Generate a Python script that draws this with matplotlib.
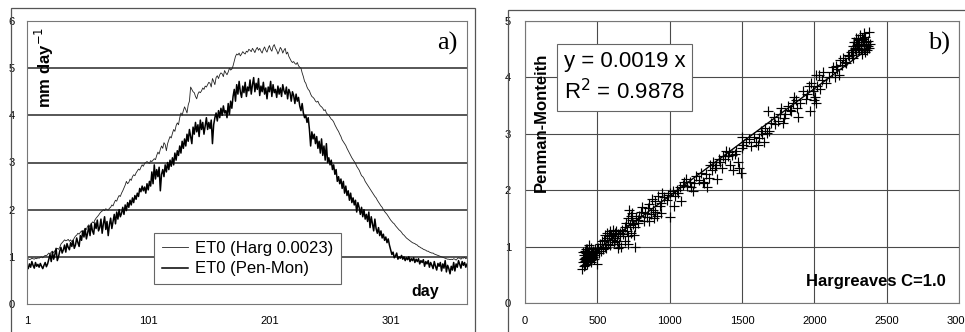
import numpy as np
import matplotlib
matplotlib.use("Agg")
from matplotlib import pyplot as plt
from matplotlib.patches import Rectangle

plt.rcParams["font.family"] = ["Liberation Sans", "DejaVu Sans"]

# ET0 Hargreaves (C=0.0023), mm/day, day 1..365
harg = [
    0.95, 0.96, 0.94, 0.95, 0.97, 0.96, 0.95, 0.97, 0.96, 0.98,
    0.97, 0.99, 1.00, 0.98, 1.01, 1.03, 1.02, 1.05, 1.08, 1.06,
    1.10, 1.12, 1.09, 1.13, 1.15, 1.18, 1.16, 1.20, 1.27, 1.30,
    1.33, 1.36, 1.34, 1.35, 1.37, 1.33, 1.36, 1.32, 1.35, 1.40,
    1.44, 1.46, 1.50, 1.48, 1.52, 1.55, 1.50, 1.56, 1.60, 1.58,
    1.65, 1.68, 1.63, 1.70, 1.74, 1.72, 1.78, 1.82, 1.85, 1.88,
    1.92, 1.95, 1.97, 2.00, 1.98, 2.02, 2.00, 1.99, 2.03, 2.05,
    2.10, 2.08, 2.15, 2.20, 2.18, 2.25, 2.30, 2.28, 2.35, 2.40,
    2.46, 2.52, 2.60, 2.55, 2.58, 2.65, 2.62, 2.70, 2.74, 2.72,
    2.78, 2.82, 2.86, 2.84, 2.90, 2.95, 2.92, 2.98, 3.00, 3.02,
    3.00, 2.98, 3.04, 3.02, 3.05, 3.08, 3.06, 3.15, 3.22, 3.18,
    3.28, 3.35, 3.30, 3.42, 3.38, 3.25, 3.40, 3.48, 3.55, 3.52,
    3.62, 3.70, 3.66, 3.78, 3.84, 3.80, 3.95, 4.05, 4.00, 4.10,
    4.18, 4.12, 4.05, 4.22, 4.30, 4.60, 4.55, 4.50, 4.48, 4.40,
    4.35, 4.45, 4.50, 4.48, 4.52, 4.58, 4.55, 4.62, 4.60, 4.65,
    4.70, 4.68, 4.60, 4.78, 4.72, 4.65, 4.80, 4.84, 4.78, 4.86,
    4.90, 4.88, 4.82, 4.95, 4.90, 4.86, 4.92, 5.00, 4.96, 4.98,
    5.05, 5.15, 5.25, 5.30, 5.28, 5.32, 5.26, 5.30, 5.35, 5.32,
    5.30, 5.36, 5.34, 5.40, 5.38, 5.35, 5.42, 5.38, 5.33, 5.40,
    5.44, 5.38, 5.42, 5.36, 5.32, 5.40, 5.45, 5.38, 5.34, 5.42,
    5.48, 5.40, 5.36, 5.46, 5.50, 5.42, 5.38, 5.30, 5.36, 5.44,
    5.40, 5.32, 5.38, 5.42, 5.30, 5.34, 5.25, 5.20, 5.15, 5.12,
    5.14, 5.10, 5.08, 5.12, 5.05, 5.02, 5.00, 4.90, 4.82, 4.72,
    4.68, 4.60, 4.55, 4.52, 4.45, 4.40, 4.38, 4.35, 4.30, 4.28,
    4.30, 4.24, 4.20, 4.18, 4.15, 4.10, 4.12, 4.05, 4.02, 4.00,
    3.96, 3.92, 3.90, 3.86, 3.80, 3.75, 3.70, 3.66, 3.60, 3.55,
    3.48, 3.44, 3.40, 3.36, 3.30, 3.25, 3.20, 3.15, 3.10, 3.06,
    3.02, 2.98, 2.92, 2.88, 2.84, 2.78, 2.72, 2.70, 2.66, 2.60,
    2.56, 2.52, 2.48, 2.44, 2.40, 2.36, 2.32, 2.28, 2.25, 2.20,
    2.16, 2.12, 2.08, 2.05, 2.00, 1.96, 1.93, 1.90, 1.86, 1.82,
    1.78, 1.75, 1.72, 1.70, 1.66, 1.63, 1.60, 1.57, 1.55, 1.52,
    1.48, 1.46, 1.43, 1.40, 1.38, 1.36, 1.34, 1.32, 1.30, 1.29,
    1.28, 1.26, 1.25, 1.22, 1.21, 1.19, 1.18, 1.16, 1.15, 1.14,
    1.12, 1.12, 1.10, 1.09, 1.08, 1.08, 1.06, 1.05, 1.04, 1.03,
    1.02, 1.01, 1.00, 0.99, 0.98, 0.97, 0.96, 0.95, 0.95, 0.94,
    0.95, 0.94, 0.96, 0.95, 0.93, 0.96, 0.98, 0.97, 0.95, 0.98,
    0.97, 0.99, 0.96, 0.98, 0.97,
]

# ET0 Penman-Monteith, mm/day, day 1..365
penmon = [
    0.80, 0.75, 0.85, 0.78, 0.90, 0.82, 0.76, 0.88, 0.80, 0.84,
    0.78, 0.86, 0.80, 0.75, 0.82, 0.88, 0.79, 0.85, 0.95, 1.05,
    0.90, 1.10, 0.95, 1.05, 1.18, 0.92, 1.00, 1.12, 1.20, 1.08,
    1.15, 1.25, 1.10, 1.28, 1.20, 1.15, 1.30, 1.22, 1.35, 1.18,
    1.25, 1.40, 1.30, 1.22, 1.45, 1.35, 1.55, 1.42, 1.60, 1.38,
    1.50, 1.65, 1.45, 1.70, 1.55, 1.48, 1.72, 1.60, 1.78, 1.55,
    1.62, 1.80, 1.50, 1.70, 1.85, 1.58, 1.75, 1.45, 1.68, 1.82,
    1.60, 1.75, 1.90, 1.70, 1.95, 1.80, 2.00, 1.85, 1.92, 2.05,
    1.90, 2.10, 1.98, 2.15, 2.05, 2.20, 2.10, 2.25, 2.15, 2.30,
    2.22, 2.35, 2.28, 2.45, 2.38, 2.50, 2.40, 2.48, 2.35, 2.55,
    2.42, 2.60, 2.50, 2.80, 2.55, 2.95, 2.65, 2.85, 2.70, 2.90,
    2.40, 2.75, 2.85, 2.70, 2.95, 2.80, 3.00, 2.85, 3.05, 2.92,
    3.10, 2.95, 3.20, 3.05, 3.25, 3.15, 3.35, 3.20, 3.45, 3.30,
    3.50, 3.35, 3.60, 3.45, 3.70, 3.55, 3.40, 3.75, 3.60, 3.85,
    3.65, 3.80, 3.55, 3.90, 3.70, 3.85, 3.60, 3.78, 3.95, 3.70,
    3.85, 3.72, 3.90, 3.40, 3.80, 3.95, 4.05, 3.88, 4.10, 3.95,
    4.15, 4.00, 4.20, 4.05, 4.10, 3.95, 4.25, 4.02, 4.30, 4.15,
    4.40, 4.55, 4.30, 4.65, 4.45, 4.72, 4.50, 4.38, 4.62, 4.48,
    4.70, 4.40, 4.60, 4.52, 4.75, 4.45, 4.65, 4.80, 4.50, 4.68,
    4.55, 4.78, 4.42, 4.62, 4.50, 4.70, 4.45, 4.58, 4.35, 4.60,
    4.50, 4.72, 4.40, 4.65, 4.48, 4.55, 4.38, 4.62, 4.45, 4.58,
    4.40, 4.65, 4.52, 4.45, 4.60, 4.35, 4.55, 4.48, 4.30, 4.50,
    4.42, 4.25, 4.45, 4.30, 4.38, 4.20, 4.10, 4.25, 4.05, 3.95,
    4.00, 3.85, 3.95, 3.70, 3.35, 3.65, 3.50, 3.60, 3.40, 3.55,
    3.30, 3.45, 3.20, 3.50, 3.15, 3.35, 3.05, 3.40, 3.00, 3.10,
    2.95, 3.05, 2.85, 2.95, 2.75, 2.85, 2.60, 2.70, 2.55, 2.65,
    2.45, 2.60, 2.35, 2.50, 2.30, 2.40, 2.20, 2.35, 2.15, 2.25,
    2.10, 2.20, 1.95, 2.15, 2.05, 1.90, 2.05, 1.85, 2.00, 1.80,
    1.90, 1.75, 1.95, 1.62, 1.85, 1.70, 1.55, 1.80, 1.60, 1.50,
    1.62, 1.45, 1.55, 1.40, 1.48, 1.35, 1.42, 1.30, 1.38, 1.25,
    1.15, 1.05, 1.10, 0.98, 1.02, 1.08, 0.95, 1.00, 0.97, 1.03,
    0.95, 1.00, 0.92, 0.98, 0.94, 1.00, 0.90, 0.96, 0.92, 0.98,
    0.88, 0.95, 0.90, 0.96, 0.85, 0.92, 0.88, 0.94, 0.80, 0.90,
    0.85, 0.92, 0.78, 0.88, 0.82, 0.75, 0.90, 0.80, 0.72, 0.86,
    0.80, 0.88, 0.70, 0.85, 0.76, 0.92, 0.68, 0.82, 0.75, 0.64,
    0.80, 0.72, 0.88, 0.70, 0.85, 0.78, 0.92, 0.84, 0.76, 0.90,
    0.82, 0.88, 0.78, 0.85, 0.80,
]

# panel b scatter: Hargreaves C=1.0 (x) vs Penman-Monteith (y)
sc_harg = [
    395, 400, 405, 410, 412, 415, 418, 420, 422, 425, 428, 430, 432, 435, 438,
    440, 442, 445, 448, 450, 455, 458, 460, 465, 470, 475, 480, 485, 490, 495,
    400, 410, 425, 440, 455, 470, 485, 500, 415, 430,
    505, 510, 520, 525, 530, 540, 545, 550, 555, 560, 565, 570, 575, 580, 585,
    590, 595, 600, 605, 610, 615, 620, 625, 630, 635, 640, 645, 650, 655, 660,
    665, 670, 680, 690, 700, 705, 710, 715, 720, 725, 730, 735, 740, 745, 750,
    760, 770, 780, 790, 800, 690, 710, 740, 760, 780,
    810, 820, 830, 840, 850, 860, 870, 880, 885, 890, 900, 910, 920, 930, 940,
    950, 960, 980, 990, 1000, 1000, 860, 900, 940,
    1020, 1030, 1040, 1050, 1060, 1070, 1080, 1090, 1100, 1110, 1120, 1140, 1150,
    1160, 1170, 1180, 1200, 1220, 1230, 1240, 1250, 1260, 1270, 1280, 1290, 1300,
    1310, 1320, 1330, 1340, 1350, 1360, 1370, 1380, 1390, 1400, 1410, 1420, 1430,
    1440, 1450, 1460, 1470, 1480, 1490, 1500, 1500, 1510,
    1530, 1550, 1560, 1580, 1600, 1610, 1620, 1630, 1640, 1650, 1660, 1670, 1680,
    1690, 1700,
    1720, 1730, 1750, 1760, 1770, 1780, 1790, 1800, 1820, 1830, 1840, 1850, 1860,
    1870, 1880, 1890, 1900,
    1920, 1940, 1950, 1960, 1970, 1980, 1990, 2000, 2005, 2010, 2010, 2020, 2030,
    2040, 2050, 2060, 2080, 2100,
    2120, 2130, 2140, 2150, 2160, 2170, 2180, 2190, 2200, 2210, 2220, 2230, 2240,
    2250,
    2260, 2265, 2270, 2275, 2280, 2285, 2290, 2295, 2300, 2305, 2310, 2315, 2320,
    2325, 2330, 2335, 2340, 2345, 2350, 2355, 2360, 2365, 2370, 2375, 2380, 2385,
    2270, 2290, 2310, 2330, 2350, 2370, 2300, 2320, 2340, 2360, 2280, 2345,
]
sc_pm = [
    0.60, 0.72, 0.85, 0.78, 0.92, 0.68, 0.80, 0.75, 0.88, 0.82, 0.70, 0.95, 0.78, 0.86, 0.74,
    1.02, 0.80, 0.90, 0.76, 0.84, 0.98, 0.72, 0.88, 0.80, 0.92, 0.85, 0.78, 0.95, 0.88, 0.70,
    0.90, 0.65, 0.96, 0.84, 0.76, 0.82, 0.90, 0.95, 0.75, 0.88,
    0.98, 0.88, 1.05, 0.92, 1.10, 0.95, 1.12, 1.00, 1.20, 0.98, 1.15, 1.25, 1.05, 1.18, 1.28,
    1.02, 1.20, 1.12, 1.22, 1.30, 1.08, 1.25, 1.15, 1.28, 1.10, 1.22, 0.98, 1.05, 1.25, 1.18,
    1.00, 1.30, 1.22, 1.35, 1.42, 1.28, 1.50, 1.18, 1.65, 1.38, 1.55, 1.25, 1.48, 1.40, 1.20,
    1.00, 1.50, 1.42, 1.55, 1.62, 1.10, 1.05, 1.60, 1.35, 1.48,
    1.70, 1.45, 1.60, 1.52, 1.68, 1.45, 1.58, 1.85, 1.65, 1.50, 1.62, 1.55, 1.90, 1.72, 1.78,
    1.95, 1.88, 1.82, 1.92, 1.52, 1.95, 1.75, 1.80, 1.60,
    1.98, 1.72, 1.90, 2.00, 1.95, 2.05, 1.80, 2.10, 2.15, 2.20, 2.08, 2.15, 2.05,
    1.98, 2.12, 2.25, 2.18, 2.30, 2.15, 2.12, 2.28, 2.05, 2.22, 2.45, 2.35, 2.50,
    2.40, 2.45, 2.20, 2.55, 2.50, 2.40, 2.60, 2.55, 2.70, 2.60, 2.68, 2.45, 2.62,
    2.35, 2.65, 2.70, 2.50, 2.40, 2.30, 2.95, 2.75, 2.80,
    2.85, 2.90, 2.78, 2.95, 2.85, 2.80, 2.92, 3.05, 3.00, 2.85, 3.10, 3.02, 3.40,
    3.05, 3.20,
    3.30, 3.18, 3.22, 3.35, 3.45, 3.20, 3.28, 3.35, 3.50, 3.42, 3.40, 3.55, 3.65,
    3.60, 3.45, 3.30, 3.55,
    3.75, 3.62, 3.70, 3.85, 3.40, 3.90, 3.75, 3.60, 3.65, 3.55, 4.05, 3.85, 4.05,
    3.80, 3.95, 4.10, 3.90, 4.00,
    4.10, 4.18, 4.00, 4.20, 4.15, 4.05, 4.30, 4.22, 4.35, 4.28, 4.25, 4.40, 4.38,
    4.45,
    4.40, 4.55, 4.48, 4.62, 4.50, 4.70, 4.45, 4.58, 4.52, 4.66, 4.48, 4.75, 4.55,
    4.60, 4.42, 4.68, 4.50, 4.62, 4.72, 4.55, 4.58, 4.48, 4.65, 4.52, 4.80, 4.60,
    4.35, 4.62, 4.58, 4.70, 4.45, 4.55, 4.68, 4.50, 4.58, 4.62, 4.52, 4.78,
]

fit_slope = 0.0019   # regression through origin in panel b
r2 = 0.9878

days = np.arange(1, len(harg) + 1)
sc_harg = np.array(sc_harg)

fig = plt.figure(figsize=(9.65, 3.32), dpi=100)
W, H = 965, 332


def px_axes(x0, x1, ytop, ybot):
    return fig.add_axes([x0 / W, 1 - ybot / H, (x1 - x0) / W, (ybot - ytop) / H])


def frame(x0, ytop, x1):
    # outer chart-area border (bottom/right run off the scan)
    fig.add_artist(Rectangle((x0 / W, -0.1), (x1 - x0) / W, 1.1 - ytop / H,
                             transform=fig.transFigure, fill=False,
                             edgecolor="#555555", lw=0.9))


frame(11, 8, 475)
frame(508, 10, 1020)

grid_kw = dict(color="#3a3a3a", lw=1.2)
tick_kw = dict(labelsize=8, length=0, colors="black")

# ---- panel a
ax = px_axes(27, 467, 21, 304)
ax.plot(days, harg, color="#222222", lw=0.6, label="ET0 (Harg 0.0023)")
ax.plot(days, penmon, color="black", lw=1.1, label="ET0 (Pen-Mon)")
ax.set_xlim(1, 364)
ax.set_ylim(0, 6)
ax.set_xticks([1, 101, 201, 301])
ax.set_yticks(range(7))
for v in range(1, 6):
    ax.axhline(v, zorder=0, **grid_kw)
ax.tick_params(axis="y", pad=9, **tick_kw)
ax.tick_params(axis="x", pad=9, **tick_kw)
for s in ax.spines.values():
    s.set_color("#777777")
    s.set_linewidth(0.8)
ax.text(0.04, 0.98, "mm day$^{-1}$", rotation=90, fontsize=12, fontweight="bold",
        transform=ax.transAxes, ha="center", va="top")
ax.text(0.955, 0.92, "a)", family="Liberation Serif", fontsize=19,
        transform=ax.transAxes, ha="center", va="center")
ax.text(0.905, 0.045, "day", fontsize=11.5, fontweight="bold",
        transform=ax.transAxes, ha="center", va="center")
leg = ax.legend(loc="lower left", bbox_to_anchor=(0.289, 0.071), fontsize=12,
                handlelength=1.6, handletextpad=0.4, borderpad=0.45,
                labelspacing=0.35, fancybox=False, framealpha=1,
                edgecolor="#666666", borderaxespad=0)
leg.get_frame().set_linewidth(0.8)

# ---- panel b
bx = px_axes(525, 959, 21, 303)
bx.plot(sc_harg, sc_pm, ls="none", marker="+", ms=6.5, mew=0.85, color="black")
xs = np.array([sc_harg.min(), sc_harg.max()])
bx.plot(xs, fit_slope * xs, color="black", lw=1.0)
bx.set_xlim(0, 3000)
bx.set_ylim(0, 5)
bx.set_xticks(range(0, 3001, 500))
bx.set_yticks(range(6))
bx.grid(True, color="#4a4a4a", lw=0.8, zorder=0)
bx.set_axisbelow(True)
bx.tick_params(axis="y", pad=10, **tick_kw)
bx.tick_params(axis="x", pad=9, **tick_kw)
for s in bx.spines.values():
    s.set_color("#777777")
    s.set_linewidth(0.8)
bx.text(0.037, 0.64, "Penman-Monteith", rotation=90, fontsize=12, fontweight="bold",
        transform=bx.transAxes, ha="center", va="center")
bx.text(0.955, 0.92, "b)", family="Liberation Serif", fontsize=19,
        transform=bx.transAxes, ha="center", va="center")
bx.text(0.97, 0.075, "Hargreaves C=1.0", fontsize=12, fontweight="bold",
        transform=bx.transAxes, ha="right", va="center")
bx.text(0.23, 0.80, "y = %.4f x\nR$^2$ = %.4f" % (fit_slope, r2), fontsize=16,
        linespacing=1.35, transform=bx.transAxes, ha="center", va="center",
        bbox=dict(boxstyle="square,pad=0.3", fc="white", ec="#666666", lw=0.8))

fig.savefig("out.png", dpi=100)
